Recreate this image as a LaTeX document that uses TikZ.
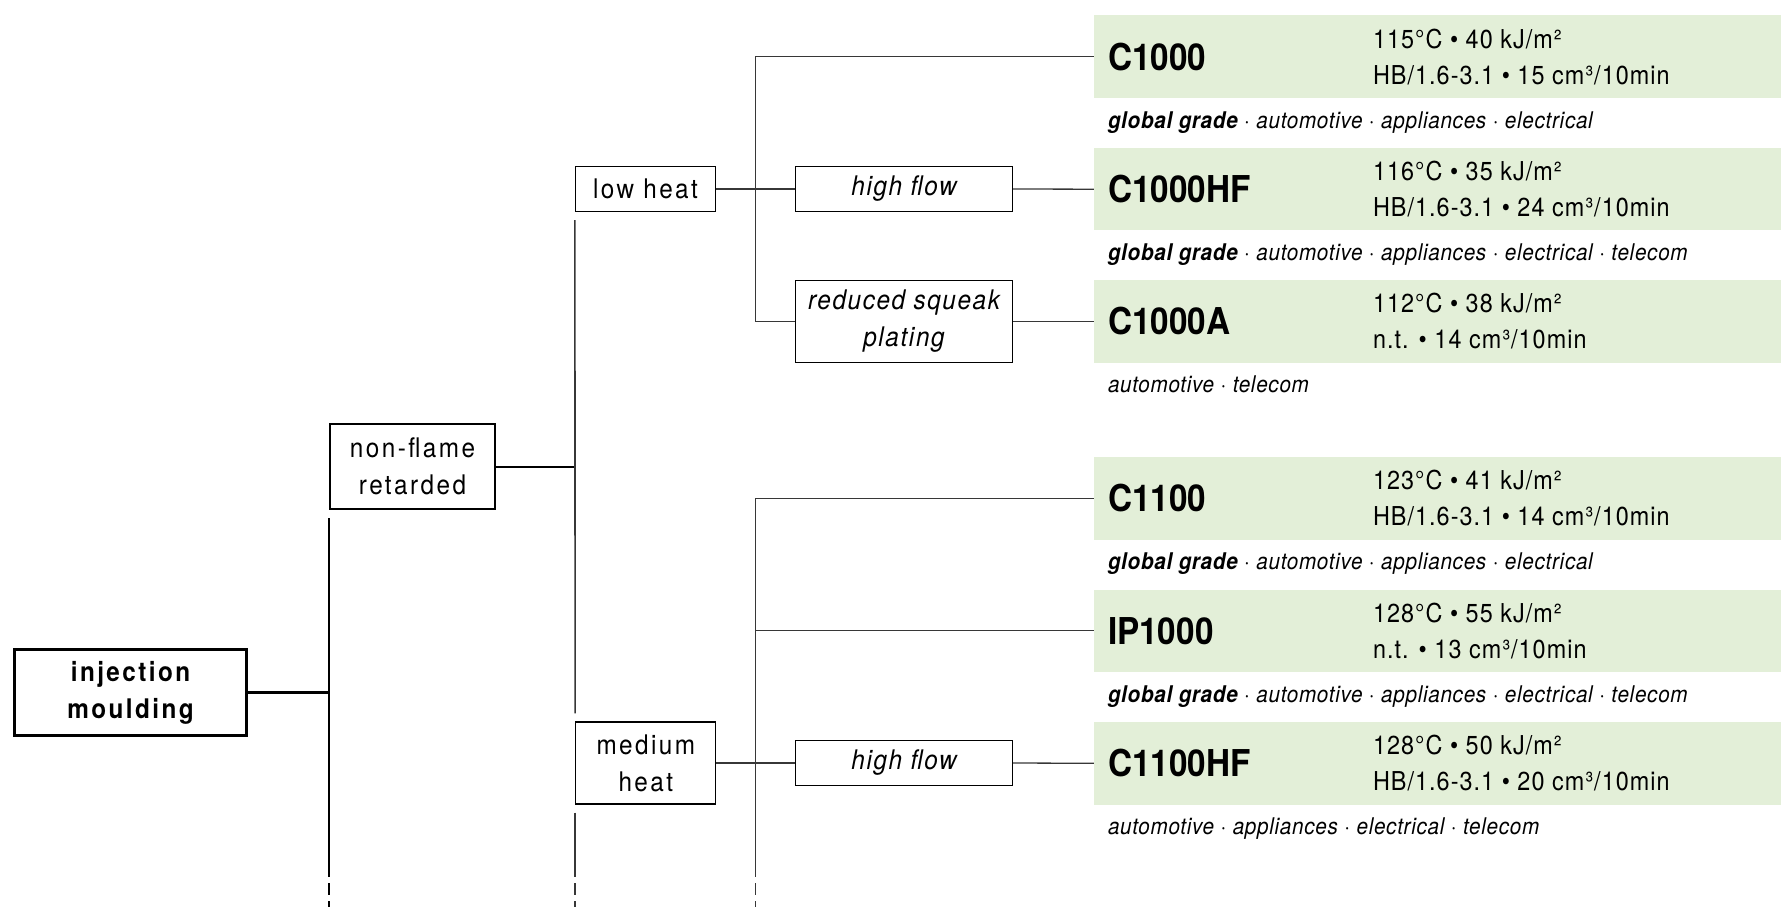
\documentclass[tikz,border=0pt]{standalone}
\usepackage{fontspec}
\setmainfont{TeX Gyre Heros}[FakeStretch=0.9]
\newfontfamily\labelfont{TeX Gyre Heros}[FakeStretch=0.9,LetterSpace=9]
\newfontfamily\slantfont{TeX Gyre Heros}[FakeStretch=0.9,LetterSpace=6]
\newfontfamily\specfont{TeX Gyre Heros}[FakeStretch=0.9,LetterSpace=4]
\newfontfamily\tagfont{TeX Gyre Heros}[FakeStretch=0.9,LetterSpace=3]
\usepackage{tikz}
\usetikzlibrary{positioning}
\definecolor{gradegreen}{RGB}{227,239,216}
\definecolor{wire}{RGB}{55,55,55}
\tikzset{
    %Define style for boxes
    process/.style={
           rectangle,
           draw=black, line width=3pt,
           minimum width=232pt,
           minimum height=86pt,
           inner sep=0pt,
           font=\labelfont\bfseries\fontsize{27}{37}\selectfont,
           align=center},
    family/.style={
           rectangle,
           draw=black, line width=2pt,
           minimum height=85pt,
           inner sep=0pt,
           font=\labelfont\fontsize{27}{37}\selectfont,
           align=center},
    option/.style={
           rectangle,
           draw=black, line width=1.3pt,
           minimum height=45pt,
           inner sep=0pt,
           font=\labelfont\fontsize{27}{37}\selectfont,
           align=center},
    variant/.style={
           option,
           minimum width=217pt,
           font=\slantfont\itshape\fontsize{27}{37}\selectfont},
    grade/.style={
           rectangle,
           fill=gradegreen,
           minimum width=687pt,
           minimum height=82.5pt,
           inner sep=0pt},
    gname/.style={
           anchor=west,
           inner sep=0pt,
           font=\bfseries\fontsize{37}{40}\selectfont},
    spec/.style={
           anchor=west,
           inner sep=0pt,
           align=left,
           font=\specfont\fontsize{26}{36}\selectfont},
    tag/.style={
           anchor=base west,
           inner sep=0pt,
           font=\tagfont\itshape\fontsize{23}{24}\selectfont},
    % Define line styles
    link/.style={
           draw=wire,
           line width=1.3pt},
    fade/.style={
           dash pattern=on 12pt off 6pt,
           dash phase=12pt}
}

\begin{document}
\begin{tikzpicture}[x=1pt,y=-1pt]
\useasboundingbox (0,0) rectangle (1790,907);
 %nodes
\node[process](inj) at (130.5,692.5){injection\\moulding};
\node[family, minimum width=165pt](nfr) at (412.5,466.5){non-flame\\retarded};
\node[option, minimum width=140pt](low) at (645.5,189){low heat};
\node[option, minimum width=140pt, minimum height=82pt](med) at (645.8,763){medium\\heat};
\node[variant](hf1) at (904,189){\raisebox{-1.5pt}{high flow}};
\node[variant, minimum height=82pt](rsp) at (904,321.4){reduced squeak\\plating};
\node[variant](hf2) at (904,763){\raisebox{-1.5pt}{high flow}};
 %grades
\node[grade](g1) at (1437.5,56.7){};
\node[grade](g2) at (1437.5,189.2){};
\node[grade](g3) at (1437.5,321.4){};
\node[grade](g4) at (1437.5,498.3){};
\node[grade](g5) at (1437.5,630.8){};
\node[grade](g6) at (1437.5,763.3){};
\node[gname](n1) at ([xshift=14pt]g1.west){C1000};
\node[gname](n2) at ([xshift=14pt]g2.west){C1000HF};
\node[gname](n3) at ([xshift=14pt]g3.west){C1000A};
\node[gname](n4) at ([xshift=14pt]g4.west){C1100};
\node[gname](n5) at ([xshift=14pt]g5.west){IP1000};
\node[gname](n6) at ([xshift=14pt]g6.west){C1100HF};
\node[spec](s1) at ([xshift=279pt]g1.west){115°C • 40 kJ/m²\\HB/1.6-3.1 • 15 cm³/10min};
\node[spec](s2) at ([xshift=279pt]g2.west){116°C • 35 kJ/m²\\HB/1.6-3.1 • 24 cm³/10min};
\node[spec](s3) at ([xshift=279pt]g3.west){112°C • 38 kJ/m²\\n.t. • 14 cm³/10min};
\node[spec](s4) at ([xshift=279pt]g4.west){123°C • 41 kJ/m²\\HB/1.6-3.1 • 14 cm³/10min};
\node[spec](s5) at ([xshift=279pt]g5.west){128°C • 55 kJ/m²\\n.t. • 13 cm³/10min};
\node[spec](s6) at ([xshift=279pt]g6.west){128°C • 50 kJ/m²\\HB/1.6-3.1 • 20 cm³/10min};
\node[tag](t1) at ([shift={(14pt,-30pt)}]g1.south west){\textbf{global grade} · automotive · appliances · electrical};
\node[tag](t2) at ([shift={(14pt,-30pt)}]g2.south west){\textbf{global grade} · automotive · appliances · electrical · telecom};
\node[tag](t3) at ([shift={(14pt,-30pt)}]g3.south west){automotive · telecom};
\node[tag](t4) at ([shift={(14pt,-30pt)}]g4.south west){\textbf{global grade} · automotive · appliances · electrical};
\node[tag](t5) at ([shift={(14pt,-30pt)}]g5.south west){\textbf{global grade} · automotive · appliances · electrical · telecom};
\node[tag](t6) at ([shift={(14pt,-30pt)}]g6.south west){automotive · appliances · electrical · telecom};
 %trunks
\coordinate (x3) at (755.5,0);
\coordinate (cut) at (0,877);
\coordinate (rim) at (0,907);
\draw[line width=3pt] (inj.east) -- (inj.east -| nfr.west);
\draw[line width=2pt] ([yshift=-8pt]nfr.south west) -- (nfr.south west |- cut);
\draw[line width=2pt, fade] (nfr.south west |- cut) -- (nfr.south west |- rim);
\draw[line width=2pt] (nfr.east) -- (nfr.east -| low.west);
\draw[link, line width=1.6pt] ([yshift=-8pt]low.south west) -- ([yshift=8pt]med.north west);
\draw[link, line width=1.6pt] ([yshift=-8pt]med.south west) -- (med.south west |- cut);
\draw[link, line width=1.6pt, fade] (med.south west |- cut) -- (med.south west |- rim);
 %links
\draw[link] (low.east) -- (hf1.west);
\draw[link] (g1.west) -- (g1.west -| x3) -- (rsp.west -| x3) -- (rsp.west);
\draw[link] (hf1.east) -- (g2.west);
\draw[link] (rsp.east) -- (g3.west);
\draw[link] (g4.west) -- (g4.west -| x3) -- (x3 |- cut);
\draw[link, fade] (x3 |- cut) -- (x3 |- rim);
\draw[link] (g5.west) -- (g5.west -| x3);
\draw[link] (med.east) -- (hf2.west);
\draw[link] (hf2.east) -- (g6.west);
\end{tikzpicture}
\end{document}
